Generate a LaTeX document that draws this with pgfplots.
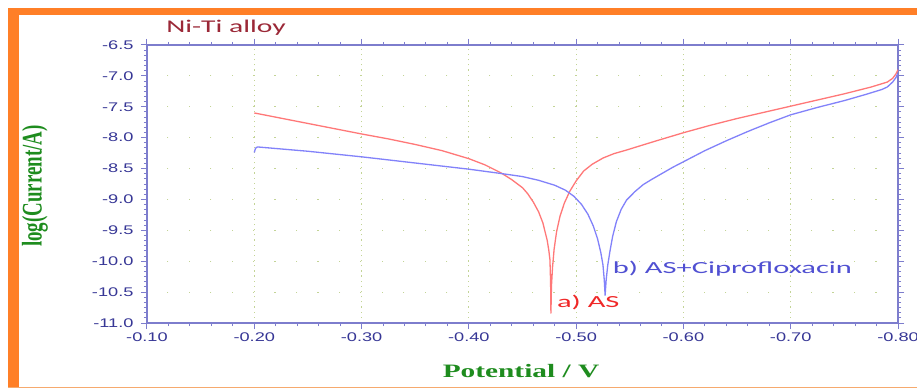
\documentclass[border=0pt]{standalone}
\usepackage{fontspec}
\setmainfont{Liberation Sans}
\newfontfamily\calfont{Carlito}
\newfontfamily\serffont{Liberation Serif}
\usepackage{graphicx}
\usepackage{pgfplots}
\pgfplotsset{compat=1.18}
\definecolor{frameorange}{RGB}{255,127,39}
\definecolor{framelight}{RGB}{246,170,110}
\definecolor{axblue}{RGB}{125,125,205}
\definecolor{tickblue}{RGB}{55,55,150}
\definecolor{gridgreen}{RGB}{195,212,150}
\definecolor{curvered}{RGB}{255,120,120}
\definecolor{curveblue}{RGB}{130,130,250}
\definecolor{labred}{RGB}{240,40,40}
\definecolor{labblue}{RGB}{80,80,210}
\definecolor{titlered}{RGB}{155,40,55}
\definecolor{labgreen}{RGB}{30,140,30}
\begin{document}
\begin{tikzpicture}[x=1bp,y=1bp]
\path[use as bounding box] (0,0) rectangle (917,388);
\fill[white] (0,0) rectangle (917,388);
\fill[frameorange] (8,373) rectangle (917,380);
\fill[frameorange] (8,0) rectangle (19,380);
\fill[framelight] (8,0) rectangle (917,1.5);
\begin{axis}[
  at={(147bp,65bp)}, anchor=south west,
  width=751bp, height=278bp, scale only axis,
  xmin=-0.8, xmax=-0.1, x dir=reverse,
  ymin=-11, ymax=-6.5,
  xtick={-0.1,-0.2,-0.3,-0.4,-0.5,-0.6,-0.7,-0.8},
  ytick={-11,-10.5,-10,-9.5,-9,-8.5,-8,-7.5,-7,-6.5},
  minor x tick num=4, minor y tick num=5,
  tick align=outside,
  major tick length=6bp, minor tick length=3bp,
  axis line style={axblue, line width=1.4bp},
  every tick/.style={axblue, line width=1bp},
  xmajorgrids, ymajorgrids,
  x grid style={gridgreen, line width=1.2bp, dash pattern=on 1.2bp off 3.95bp},
  y grid style={gridgreen, line width=1.2bp, dash pattern=on 1.2bp off 20.26bp},
  xticklabel style={font=\fontsize{12.6}{14}\selectfont, text=tickblue},
  yticklabel style={font=\fontsize{12.6}{14}\selectfont, text=tickblue, xshift=-4bp},
  xticklabel={\scalebox{1.45}[1]{\pgfmathprintnumber[fixed,fixed zerofill,precision=2,assume math mode=true]{\tick}}},
  yticklabel={\scalebox{1.45}[1]{\pgfmathprintnumber[fixed,fixed zerofill,precision=1,assume math mode=true]{\tick}}},
]
\addplot[curvered, line width=1.3bp, line join=round] coordinates {
(-0.200,-7.60) (-0.225,-7.685) (-0.250,-7.77) (-0.275,-7.855) (-0.300,-7.94)
(-0.325,-8.02) (-0.350,-8.11) (-0.375,-8.21) (-0.400,-8.34) (-0.415,-8.44)
(-0.430,-8.57) (-0.440,-8.68) (-0.450,-8.81) (-0.455,-8.91) (-0.460,-9.04)
(-0.465,-9.20) (-0.469,-9.38) (-0.473,-9.66) (-0.4745,-9.82) (-0.4756,-9.98)
(-0.4762,-10.35) (-0.4765,-10.84) (-0.4770,-10.40) (-0.4780,-10.10) (-0.4795,-9.80)
(-0.4818,-9.52) (-0.4850,-9.27) (-0.4890,-9.06) (-0.4940,-8.87) (-0.5000,-8.70)
(-0.5070,-8.54) (-0.5150,-8.43) (-0.5250,-8.33) (-0.5350,-8.26) (-0.547,-8.20)
(-0.560,-8.13) (-0.575,-8.05) (-0.600,-7.92) (-0.625,-7.80) (-0.650,-7.69)
(-0.675,-7.59) (-0.700,-7.49) (-0.725,-7.39) (-0.750,-7.29) (-0.775,-7.18)
(-0.790,-7.10) (-0.795,-7.04) (-0.798,-6.97) (-0.800,-6.90)
};
\addplot[curveblue, line width=1.3bp, line join=round] coordinates {
(-0.2000,-8.24) (-0.2012,-8.17) (-0.2030,-8.15) (-0.250,-8.22) (-0.300,-8.31)
(-0.350,-8.41) (-0.400,-8.51) (-0.430,-8.58) (-0.450,-8.63) (-0.465,-8.69)
(-0.480,-8.77) (-0.490,-8.85) (-0.498,-8.95) (-0.505,-9.08) (-0.511,-9.24)
(-0.516,-9.43) (-0.520,-9.64) (-0.523,-9.86) (-0.525,-10.06) (-0.5262,-10.30)
(-0.5270,-10.55) (-0.5280,-10.30) (-0.5295,-10.06) (-0.5315,-9.84) (-0.534,-9.60)
(-0.5375,-9.36) (-0.542,-9.16) (-0.547,-9.01) (-0.555,-8.87) (-0.5625,-8.76)
(-0.570,-8.68) (-0.578,-8.60) (-0.590,-8.48) (-0.600,-8.39) (-0.620,-8.21)
(-0.640,-8.05) (-0.660,-7.90) (-0.680,-7.76) (-0.700,-7.63) (-0.725,-7.51)
(-0.750,-7.40) (-0.770,-7.30) (-0.785,-7.22) (-0.790,-7.18) (-0.795,-7.10)
(-0.798,-7.03) (-0.7995,-6.97)
};
\node[anchor=west, inner sep=0pt, text=labred, font=\calfont\fontsize{17}{20}\selectfont] at (axis cs:-0.482,-10.66) {\scalebox{1.8}[1]{a) AS}};
\node[anchor=west, inner sep=0pt, text=labblue, font=\calfont\fontsize{17}{20}\selectfont] at (axis cs:-0.534,-10.12) {\scalebox{1.8}[1]{b) AS+Ciprofloxacin}};
\end{axis}
\node[text=titlered, font=\calfont\fontsize{18}{21}\selectfont] at (226,360) {\scalebox{1.65}[1]{Ni-Ti alloy}};
\node[rotate=90, text=labgreen, font=\serffont\bfseries\fontsize{19}{22}\selectfont] at (35,202) {\scalebox{1}[1.5]{log(Current/A)}};
\node[text=labgreen, font=\serffont\bfseries\fontsize{19}{22}\selectfont] at (521,17) {\scalebox{1.55}[1]{Potential / V}};
\end{tikzpicture}
\end{document}
